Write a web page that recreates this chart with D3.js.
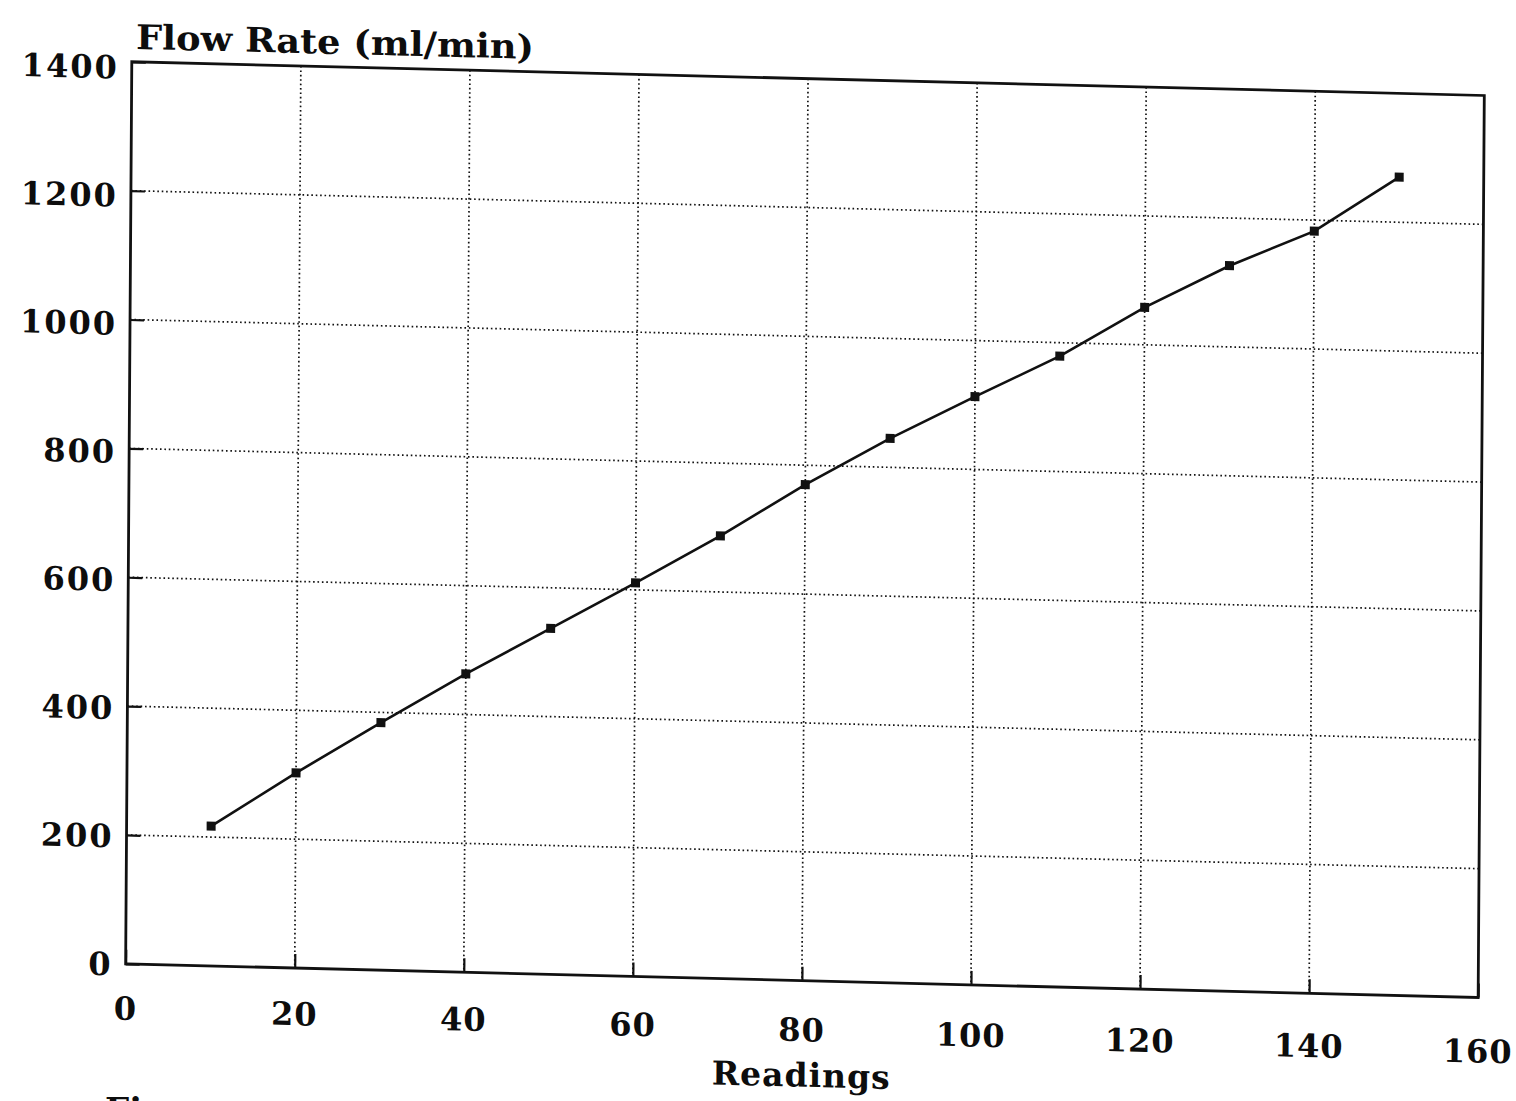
<!DOCTYPE html>
<html>
<head>
<meta charset="utf-8">
<script src="https://cdn.jsdelivr.net/npm/d3@7"></script>
<style>
  html, body { margin: 0; padding: 0; background: #fff; }
  svg { display: block; }
  text { font-family: "DejaVu Serif", "Liberation Serif", serif; font-weight: bold; fill: #0d0d0d; }
</style>
</head>
<body>
<svg id="chart" width="1516" height="1101"></svg>
<script>
// Flow rate readings
const readings = [10, 20, 30, 40, 50, 60, 70, 80, 90, 100, 110, 120, 130, 140, 150];
const flowRate = [217, 303, 384, 463, 537, 611, 687, 770, 845, 913, 979, 1058, 1126, 1183, 1270];

// Axis ticks
const xTicks = [0, 20, 40, 60, 80, 100, 120, 140, 160];
const yTicks = [0, 200, 400, 600, 800, 1000, 1200, 1400];

const yTitle = "Flow Rate (ml/min)";
const xTitle = "Readings";
const caption = "Figure";

const W = 1352.5, H = 902;
const svg = d3.select("#chart");
svg.append("rect").attr("width", 1516).attr("height", 1101).attr("fill", "#fff");

// the printed page sits slightly skewed, so the plot is laid out in its own frame
const g = svg.append("g")
  .attr("transform", "matrix(1,0.02492,-0.00682,1,131.8,61.8)");

const x = d3.scaleLinear().domain([0, 160]).range([0, W]);
const y = d3.scaleLinear().domain([0, 1400]).range([H, 0]);

// dotted grid
const grid = g.append("g")
  .attr("stroke", "#111").attr("stroke-width", 1.7)
  .attr("stroke-dasharray", "1.6 2.8").attr("fill", "none");
grid.selectAll("line.v").data(xTicks.slice(1, -1)).join("line")
  .attr("x1", d => x(d)).attr("x2", d => x(d)).attr("y1", 0).attr("y2", H);
grid.selectAll("line.h").data(yTicks.slice(1, -1)).join("line")
  .attr("x1", 0).attr("x2", W).attr("y1", d => y(d)).attr("y2", d => y(d));

// inward tick marks on the left and bottom axes
const bottomAxis = d3.axisBottom(x).tickValues(xTicks).tickSize(-14).tickFormat("");
const leftAxis = d3.axisLeft(y).tickValues(yTicks).tickSize(-14).tickFormat("");
const bx = g.append("g").attr("transform", `translate(0,${H})`).call(bottomAxis);
const lx = g.append("g").call(leftAxis);
[bx, lx].forEach(a => {
  a.select(".domain").remove();
  a.selectAll(".tick line").attr("stroke", "#111").attr("stroke-width", 2.2);
});

// frame
g.append("rect").attr("x", 0).attr("y", 0).attr("width", W).attr("height", H)
  .attr("fill", "none").attr("stroke", "#111").attr("stroke-width", 2.8);

// tick labels
g.selectAll("text.ylab").data(yTicks).join("text")
  .attr("class", "ylab")
  .attr("x", -13).attr("y", d => y(d) + 12 + 5 * d / 1400)
  .attr("text-anchor", "end")
  .attr("font-size", 32).attr("letter-spacing", 2)
  .text(d => d);
g.selectAll("text.xlab").data(xTicks).join("text")
  .attr("class", "xlab")
  .attr("x", d => x(d)).attr("y", d => H + 56 + 9 * d / 160)
  .attr("text-anchor", "middle")
  .attr("font-size", 32).attr("letter-spacing", 1)
  .text(d => d);

// axis titles
g.append("text").attr("x", 4).attr("y", -13)
  .attr("font-size", 34).attr("textLength", 398).attr("lengthAdjust", "spacingAndGlyphs")
  .text(yTitle);
g.append("text").attr("x", x(80)).attr("y", H + 106)
  .attr("text-anchor", "middle").attr("font-size", 33).attr("letter-spacing", 1)
  .text(xTitle);

// series
const pts = readings.map((r, i) => [r, flowRate[i]]);
g.append("path").datum(pts)
  .attr("fill", "none").attr("stroke", "#111").attr("stroke-width", 2.6)
  .attr("d", d3.line().x(d => x(d[0])).y(d => y(d[1])));
g.selectAll("rect.pt").data(pts).join("rect")
  .attr("class", "pt")
  .attr("x", d => x(d[0]) - 4.5).attr("y", d => y(d[1]) - 4.5)
  .attr("width", 9).attr("height", 9).attr("fill", "#111");

// caption below the chart
svg.append("text").attr("x", 105).attr("y", 1122)
  .attr("font-size", 34).text(caption);
</script>
</body>
</html>
